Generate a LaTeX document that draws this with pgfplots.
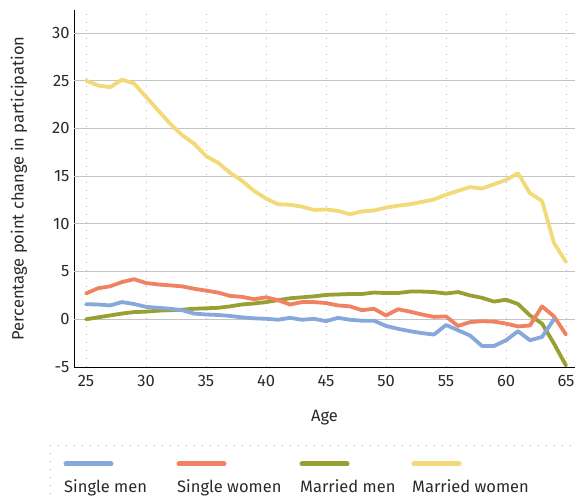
\documentclass[border=0pt]{standalone}
\usepackage{pgfplots}
\pgfplotsset{compat=1.18}
\usepackage{fontspec}
\setmainfont{Fira Sans}
\definecolor{cblue}{HTML}{86A8DA}
\definecolor{cred}{HTML}{F08262}
\definecolor{colive}{HTML}{99A032}
\definecolor{cyellow}{HTML}{F2DA78}
\definecolor{ctext}{HTML}{2A2A2A}
\definecolor{cgrid}{HTML}{C4C4C4}
\begin{document}
\begin{tikzpicture}
\useasboundingbox (0,0) rectangle (577bp,498bp);
\begin{axis}[
  at={(74bp,131bp)}, anchor=south west,
  scale only axis, width=501bp, height=357bp,
  xmin=24, xmax=65.75, ymin=-5, ymax=32.4,
  axis lines*=left,
  axis line style={black, line width=0.8pt},
  x axis line style={-}, y axis line style={-},
  xtick={25,30,...,65}, ytick={-5,0,...,30},
  major tick length=0pt,
  tick label style={font=\fontsize{16.5bp}{18bp}\selectfont, text=ctext},
  /pgf/number format/assume math mode=true,
  xticklabel style={yshift=-5bp},
  yticklabel style={xshift=-1bp},
  xlabel={Age}, ylabel={Percentage point change in participation},
  label style={font=\fontsize{16.5bp}{18bp}\selectfont, text=ctext},
  xlabel style={yshift=-16bp},
  ylabel style={yshift=18bp},
  extra y ticks={0,5,...,30}, extra y tick labels={},
  extra y tick style={grid=major, major grid style={cgrid, line width=0.8pt}},
  xmajorgrids, major x grid style={gray!60, line width=0.8pt, dash pattern=on 0.8bp off 7.2bp},
  every axis plot/.append style={line width=3.8bp, line join=round, line cap=round},
]
\addplot[cyellow] coordinates {(25,25.0)(26,24.5)(27,24.3)(28,25.1)(29,24.7)(30,23.3)(31,21.9)(32,20.5)(33,19.3)(34,18.4)(35,17.1)(36,16.4)(37,15.35)(38,14.5)(39,13.45)(40,12.65)(41,12.05)(42,12.0)(43,11.8)(44,11.45)(45,11.5)(46,11.35)(47,11.0)(48,11.3)(49,11.4)(50,11.7)(51,11.9)(52,12.05)(53,12.3)(54,12.55)(55,13.05)(56,13.45)(57,13.85)(58,13.7)(59,14.15)(60,14.6)(61,15.3)(62,13.2)(63,12.4)(64,8.0)(65,6.0)};
\addplot[colive] coordinates {(25,0)(26,0.2)(27,0.4)(28,0.6)(29,0.75)(30,0.8)(31,0.9)(32,0.95)(33,1.0)(34,1.1)(35,1.15)(36,1.2)(37,1.35)(38,1.55)(39,1.65)(40,1.8)(41,2.0)(42,2.2)(43,2.3)(44,2.4)(45,2.55)(46,2.6)(47,2.65)(48,2.65)(49,2.8)(50,2.75)(51,2.75)(52,2.9)(53,2.9)(54,2.85)(55,2.7)(56,2.85)(57,2.5)(58,2.25)(59,1.85)(60,2.05)(61,1.6)(62,0.4)(63,-0.45)(64,-2.55)(65,-4.85)};
\addplot[cred] coordinates {(25,2.7)(26,3.25)(27,3.45)(28,3.9)(29,4.2)(30,3.8)(31,3.65)(32,3.55)(33,3.45)(34,3.2)(35,3.0)(36,2.8)(37,2.45)(38,2.35)(39,2.1)(40,2.3)(41,2.0)(42,1.55)(43,1.8)(44,1.8)(45,1.7)(46,1.45)(47,1.35)(48,0.95)(49,1.1)(50,0.4)(51,1.05)(52,0.8)(53,0.5)(54,0.25)(55,0.3)(56,-0.7)(57,-0.3)(58,-0.2)(59,-0.25)(60,-0.45)(61,-0.75)(62,-0.65)(63,1.35)(64,0.3)(65,-1.6)};
\addplot[cblue] coordinates {(25,1.58)(26,1.55)(27,1.45)(28,1.8)(29,1.6)(30,1.3)(31,1.2)(32,1.1)(33,0.95)(34,0.6)(35,0.5)(36,0.45)(37,0.35)(38,0.2)(39,0.1)(40,0.05)(41,-0.05)(42,0.15)(43,-0.05)(44,0.05)(45,-0.2)(46,0.15)(47,-0.05)(48,-0.15)(49,-0.15)(50,-0.7)(51,-1.0)(52,-1.25)(53,-1.45)(54,-1.6)(55,-0.6)(56,-1.15)(57,-1.7)(58,-2.8)(59,-2.8)(60,-2.2)(61,-1.25)(62,-2.2)(63,-1.85)(64,0)};
\end{axis}
% legend
\draw[gray!70, line width=0.8pt, dash pattern=on 0.8bp off 7.2bp] (50bp,53bp) -- (577bp,53bp);
\draw[gray!70, line width=0.8pt, dash pattern=on 0.8bp off 7.2bp] (50bp,53bp) -- (50bp,0bp);
\foreach \c/\x/\t in {cblue/64/Single men, cred/177/Single women, colive/300/Married men, cyellow/412/Married women}{
  \draw[\c, line width=5bp, line cap=round] (\x bp+2bp,34bp) -- (\x bp+47bp,34bp);
  \node[anchor=base west, inner sep=0pt, text=ctext, font=\fontsize{16.5bp}{18bp}\selectfont] at (\x bp,6bp) {\t};
}
\end{tikzpicture}
\end{document}
